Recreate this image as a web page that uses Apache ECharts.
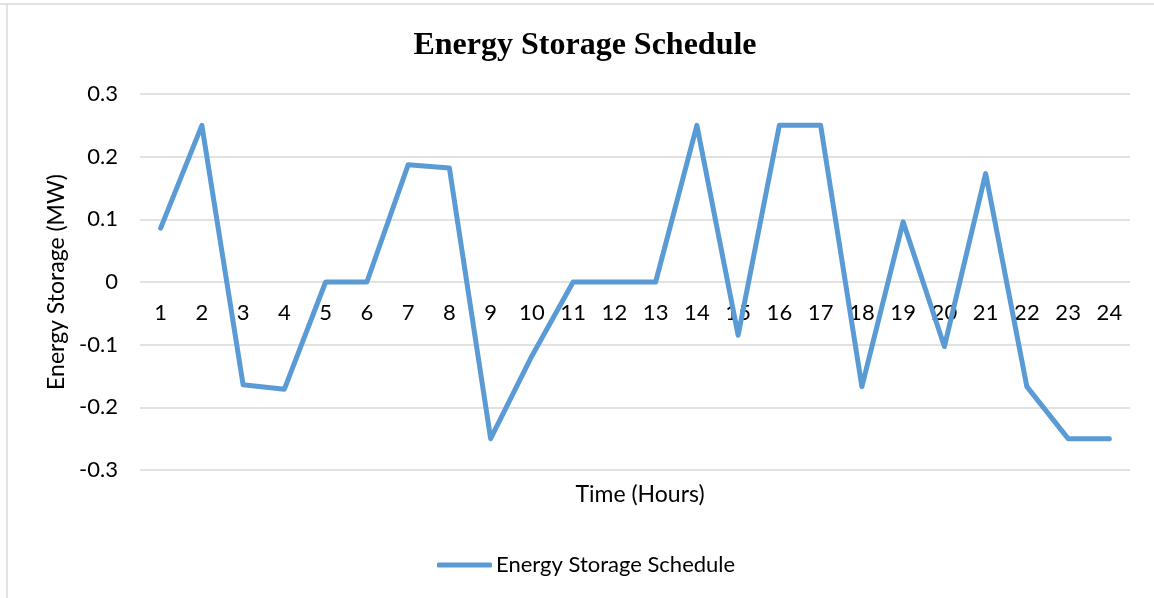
<!DOCTYPE html>
<html>
<head>
<meta charset="utf-8">
<script src="https://cdn.jsdelivr.net/npm/echarts@6/dist/echarts.min.js"></script>
<style>
  html, body { margin: 0; padding: 0; background: #fff; }
  #chart { width: 1154px; height: 598px; }
</style>
</head>
<body>
<div id="chart"></div>
<script>
// hours along the x axis
const hours = ['1', '2', '3', '4', '5', '6', '7', '8', '9', '10', '11', '12',
  '13', '14', '15', '16', '17', '18', '19', '20', '21', '22', '23', '24']
// storage schedule (MW)
const storage = [0.086, 0.25, -0.164, -0.171, 0, 0, 0.187, 0.182, -0.25, -0.118, 0, 0,
  0, 0.25, -0.085, 0.25, 0.25, -0.167, 0.096, -0.103, 0.173, -0.167, -0.25, -0.25]
const yTicks = [-0.3, -0.2, -0.1, 0, 0.1, 0.2, 0.3]

const font = 'Lato'
const chart = echarts.init(document.getElementById('chart'))

const option = {
  animation: false,
  title: [{
    text: 'Energy Storage Schedule',
    left: 580,
    textAlign: 'center',
    top: 25,
    textStyle: {
      fontFamily: 'Liberation Serif',
      fontWeight: 'bold',
      fontSize: 32,
      color: '#000'
    }
  }, {
    // x axis name sits under the plot (centred on it), not at the zero line
    text: 'Time (Hours)',
    left: 635,
    textAlign: 'center',
    top: 478,
    textStyle: { fontFamily: font, fontWeight: 'normal', fontSize: 23, color: '#000' }
  }],
  legend: {
    top: 549,
    left: 432,
    itemWidth: 55,
    itemHeight: 5,
    itemGap: 0,
    icon: 'roundRect',
    textStyle: { fontFamily: font, fontSize: 22, color: '#000', padding: [0, 0, 0, -1] },
    data: ['Energy Storage Schedule']
  },
  grid: {
    left: 140,
    right: 24,
    top: 94,
    bottom: 128
  },
  xAxis: {
    type: 'category',
    data: hours,
    boundaryGap: true,
    // pull the axis up onto the zero line, where the hour labels sit
    offset: -188,
    axisLine: { show: false },
    axisTick: { show: false },
    axisLabel: {
      margin: 20,
      fontFamily: font,
      fontSize: 22,
      color: '#000'
    }
  },
  yAxis: {
    type: 'value',
    min: yTicks[0],
    max: yTicks[yTicks.length - 1],
    interval: 0.1,
    name: 'Energy Storage (MW)',
    nameLocation: 'middle',
    nameGap: 68,
    nameTextStyle: { fontFamily: font, fontSize: 23, color: '#000' },
    axisLine: { show: false },
    axisTick: { show: false },
    axisLabel: {
      margin: 22,
      fontFamily: font,
      fontSize: 22,
      color: '#000',
      formatter: v => String(Math.round(v * 10) / 10)
    },
    splitLine: { lineStyle: { color: '#d9d9d9', width: 1.5 } }
  },
  graphic: [{
    type: 'line',
    shape: { x1: 0, y1: 4, x2: 1154, y2: 4 },
    style: { stroke: '#d9d9d9', lineWidth: 1.5 }
  }, {
    type: 'line',
    shape: { x1: 7, y1: 4, x2: 7, y2: 598 },
    style: { stroke: '#d9d9d9', lineWidth: 1.5 }
  }],
  series: [{
    name: 'Energy Storage Schedule',
    type: 'line',
    data: storage,
    symbol: 'none',
    lineStyle: { color: '#5b9bd5', width: 5, cap: 'round', join: 'round' },
    itemStyle: { color: '#5b9bd5' }
  }]
}

chart.setOption(option)
</script>
</body>
</html>
